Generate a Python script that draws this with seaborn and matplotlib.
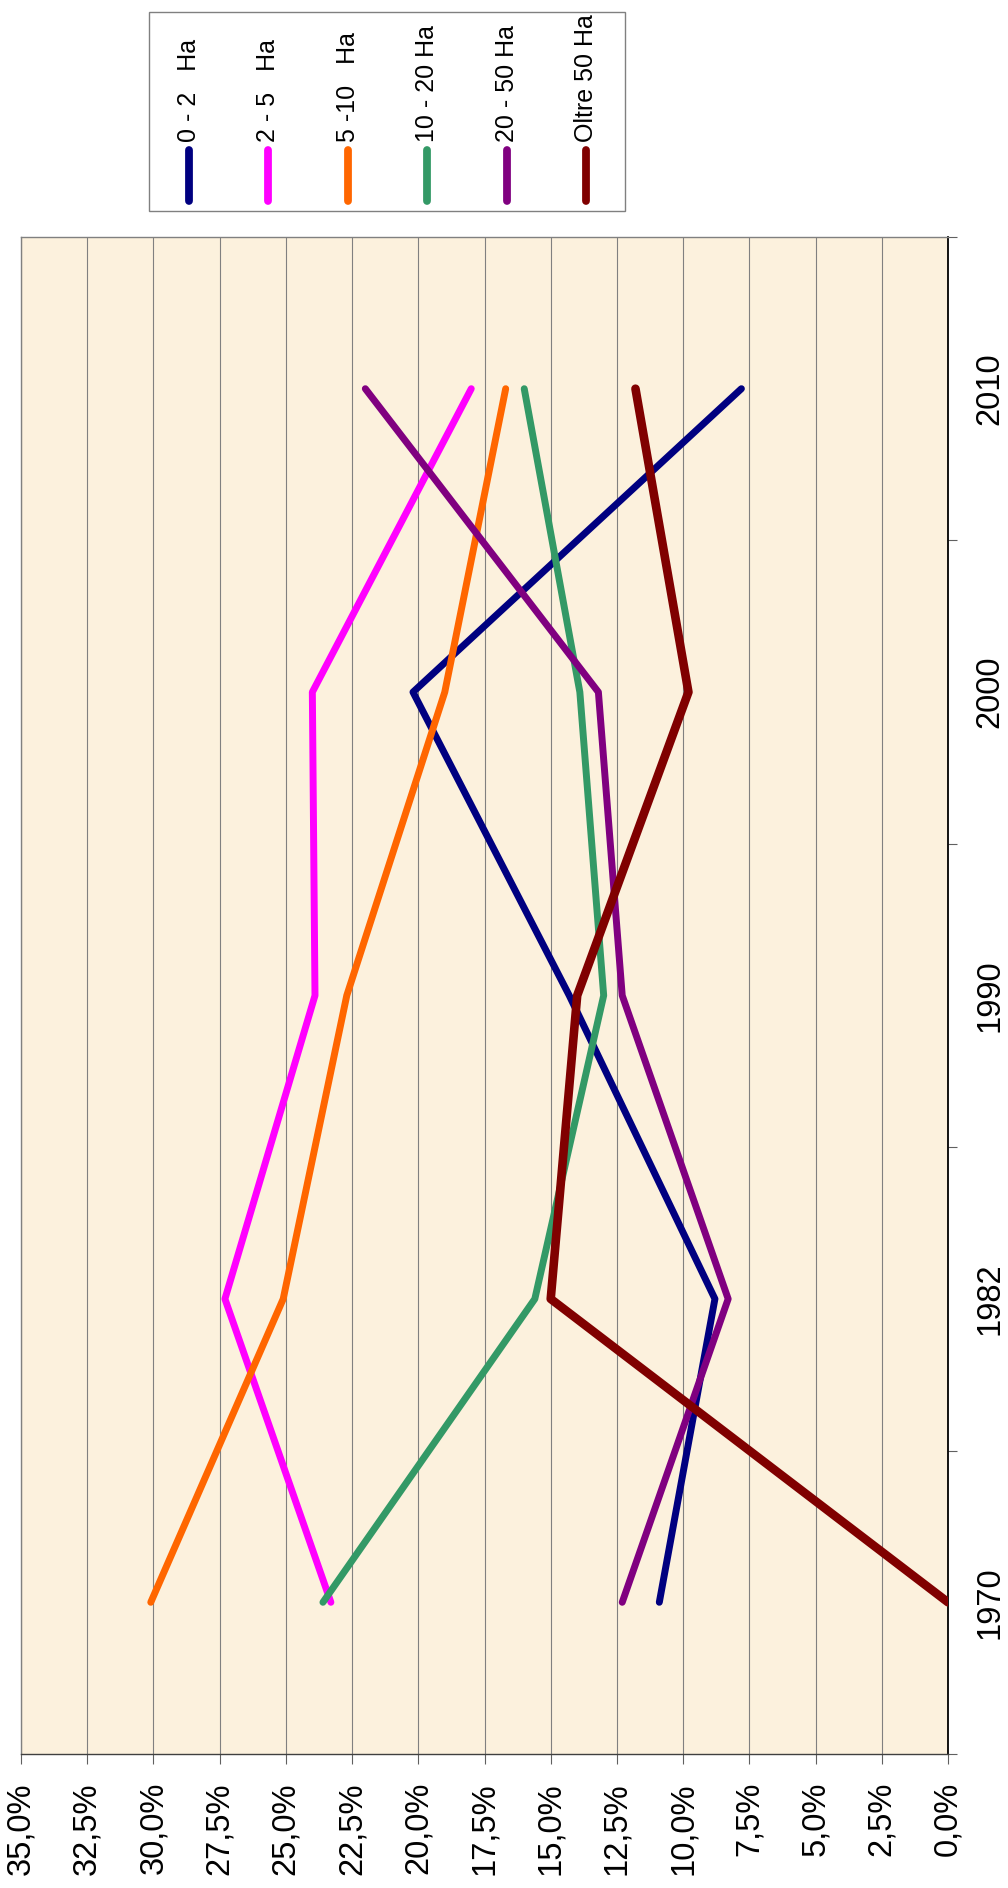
"""Aziende agricole per classe di superficie (quota %), grafico ruotato di 90 gradi."""

import matplotlib

matplotlib.use("Agg")
import matplotlib.pyplot as plt
import numpy as np
import pandas as pd
import seaborn as sns
from matplotlib.patches import Rectangle

YEARS = ["1970", "1982", "1990", "2000", "2010"]
CLASSES = ["0 - 2   Ha", "2 - 5   Ha", "5 -10   Ha", "10 - 20 Ha", "20 - 50 Ha", "Oltre 50 Ha"]
COLORS = ["#000080", "#FF00FF", "#FF6600", "#339966", "#800080", "#800000"]

# quote percentuali per anno (1970 -> 2010)
ha_0_2 = [10.9, 8.8, 14.3, 20.2, 7.8]
ha_2_5 = [23.3, 27.3, 23.9, 24.0, 18.0]
ha_5_10 = [30.1, 25.1, 22.7, 19.0, 16.7]
ha_10_20 = [23.6, 15.6, 13.0, 13.9, 16.0]
ha_20_50 = [12.3, 8.3, 12.3, 13.2, 22.0]
oltre_50 = [0.0, 15.0, 14.0, 9.8, 11.8]

PCT_TICKS = np.arange(0, 35.01, 2.5)

W, H = 1008, 1888

sns.set_theme(style="white")
plt.rcParams["font.family"] = ["Liberation Sans", "DejaVu Sans"]

series = [ha_0_2, ha_2_5, ha_5_10, ha_10_20, ha_20_50, oltre_50]
df = pd.DataFrame(
    {
        "classe": np.repeat(CLASSES, len(YEARS)),
        "anno": YEARS * len(CLASSES),
        "pos": list(range(len(YEARS))) * len(CLASSES),
        "quota": np.concatenate(series),
    }
)

fig = plt.figure(figsize=(W / 100, H / 100), dpi=100)
ax = fig.add_axes([21 / W, 1 - 1754 / H, (948 - 21) / W, (1754 - 237) / H])
ax.set_facecolor("#FCF1DD")

for classe, color in zip(CLASSES, COLORS):
    sub = df[df["classe"] == classe]
    lw = 6.2 if classe.startswith("Oltre") else 5.0
    sns.lineplot(
        data=sub, x="quota", y="pos", orient="y", sort=True, estimator=None,
        color=color, linewidth=lw, ax=ax, legend=False,
        solid_capstyle="round", solid_joinstyle="round", zorder=3,
    )

# asse percentuale (in basso, invertito)
ax.set_xlim(35, 0)
ax.set_xticks(PCT_TICKS)
ax.set_xticklabels([f"{t:.1f}%".replace(".", ",") for t in PCT_TICKS], rotation=90)
ax.tick_params(axis="x", direction="out", length=7.2, width=0.8, color="#606060",
               pad=13, labelsize=23.5, labelcolor="black", bottom=True)
ax.grid(axis="x", color="#808080", linewidth=0.8, zorder=1)
ax.grid(axis="y", visible=False)

# asse anni (a destra)
ax.set_ylim(-0.5, len(YEARS) - 0.5)
ax.yaxis.tick_right()
ax.set_yticks(np.arange(-0.5, len(YEARS), 1.0))
ax.set_yticklabels([])
ax.set_yticks(range(len(YEARS)), minor=True)
ax.set_yticklabels(YEARS, minor=True, rotation=90, va="center")
ax.tick_params(axis="y", which="major", direction="out", length=6.5, width=0.8,
               color="#606060", right=True, left=False)
ax.tick_params(axis="y", which="minor", length=0, pad=19, labelsize=23.5,
               labelcolor="black", right=True, left=False)
ax.set_xlabel("")
ax.set_ylabel("")

for side in ["left", "top"]:
    ax.spines[side].set_color("#808080")
    ax.spines[side].set_linewidth(1.0)
ax.spines["bottom"].set_color("#404040")
ax.spines["bottom"].set_linewidth(1.0)
ax.spines["right"].set_color("black")
ax.spines["right"].set_linewidth(1.3)

# legenda disegnata a mano, ruotata come il grafico
lax = fig.add_axes([0, 0, 1, 1])
lax.set_xlim(0, W)
lax.set_ylim(H, 0)
lax.axis("off")
lax.add_patch(Rectangle((149, 12), 476, 199, facecolor="white", edgecolor="#808080", linewidth=1.0))
leg_x = [189, 268, 348, 427, 507, 586]
for x, classe, color in zip(leg_x, CLASSES, COLORS):
    lax.plot([x, x], [150, 201], color=color, linewidth=5.6, solid_capstyle="round")
    lax.text(x, 142, classe, rotation=90, ha="center", va="bottom", fontsize=18, color="black")

fig.savefig("out.png", dpi=100, facecolor="white")
plt.close(fig)
